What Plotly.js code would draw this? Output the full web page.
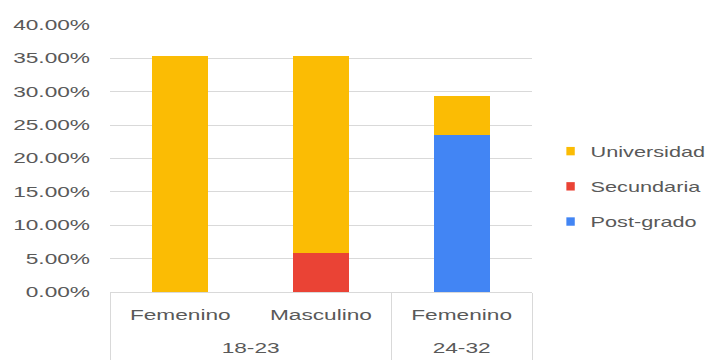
<!DOCTYPE html>
<html>
<head>
<meta charset="utf-8">
<script src="https://cdn.plot.ly/plotly-3.0.1.min.js"></script>
<style>
  html, body { margin: 0; padding: 0; background: #ffffff; }
  #chart { width: 716px; height: 360px; }
</style>
</head>
<body>
<div id="chart"></div>
<script>
// Age groups (outer level) and sex (inner level) for each bar
const ageGroups = ['18-23', '18-23', '24-32'];
const sexes = ['Femenino', 'Masculino', 'Femenino'];

// Share of respondents by highest education level
const postGrado = [0, 0, 0.2353];
const secundaria = [0, 0.0588, 0];
const universidad = [0.3529, 0.2941, 0.0588];

// Stacked bottom to top; listed top to bottom in the legend
const seriesNames = ['Post-grado', 'Secundaria', 'Universidad'];
const seriesColors = ['#4285F4', '#EA4335', '#FBBC04'];
const seriesValues = [postGrado, secundaria, universidad];
const legendRanks = [3, 2, 1];

const FONT_FAMILY = 'Liberation Sans, Arial, sans-serif';
const textFont = { family: FONT_FAMILY, size: 14, color: '#595959' };

const traces = seriesNames.map((name, i) => ({
  type: 'bar',
  name: name,
  legendgroup: name,
  legendrank: legendRanks[i],
  x: [ageGroups, sexes],
  y: seriesValues[i],
  marker: { color: seriesColors[i], line: { width: 0 } },
  hoverinfo: 'skip'
}));

const layout = {
  width: 716,
  height: 360,
  barmode: 'stack',
  bargap: 0.6,
  margin: { l: 110, r: 184, t: 25, b: 68 },
  paper_bgcolor: '#ffffff',
  plot_bgcolor: '#ffffff',
  font: textFont,
  showlegend: true,
  legend: {
    traceorder: 'grouped',
    tracegroupgap: 14,
    x: 1.044,
    xanchor: 'left',
    y: 0.395,
    yanchor: 'middle',
    font: textFont,
    itemwidth: 30
  },
  xaxis: {
    type: 'multicategory',
    showline: true,
    linecolor: '#d9d9d9',
    linewidth: 1,
    showdividers: true,
    dividercolor: '#d9d9d9',
    dividerwidth: 1,
    ticks: '',
    ticklabelstandoff: 10,
    tickfont: textFont,
    showgrid: false
  },
  yaxis: {
    range: [0, 0.4],
    dtick: 0.05,
    tickformat: '.2%',
    showgrid: true,
    gridcolor: '#d9d9d9',
    gridwidth: 1,
    zeroline: false,
    showline: false,
    ticks: '',
    ticklabelstandoff: 19,
    tickfont: textFont
  }
};

// Widen the label glyphs horizontally, keeping each label's anchor point fixed
function widenText(selector, sx, anchor) {
  document.querySelectorAll(selector).forEach(t => {
    const r = t.getBoundingClientRect();
    const pm = t.parentNode.getScreenCTM();
    const px = anchor === 'end' ? r.right : anchor === 'start' ? r.left : (r.left + r.right) / 2;
    const cx = px - pm.e;
    const old = t.getAttribute('transform') || '';
    t.setAttribute('transform', `translate(${cx},0) scale(${sx},1) translate(${-cx},0) ${old}`);
  });
}

// Move the outer category labels lower and stretch the dividers to the bottom edge
function lowerGroupLabels(dy, bottom) {
  document.querySelectorAll('.xtick2 text').forEach(t => {
    const old = t.getAttribute('transform') || '';
    t.setAttribute('transform', `translate(0,${dy}) ${old}`);
  });
  document.querySelectorAll('path.xdivider').forEach(p => {
    const bb = p.getBBox();
    const top = p.getBoundingClientRect().top;
    p.setAttribute('d', `M0,${bb.y}v${bottom - top}`);
  });
}

// Smaller legend swatches, and no clipping of the widened legend text
function tidyLegend(s) {
  document.querySelectorAll('.legendpoints path').forEach(p => {
    const old = p.getAttribute('transform') || '';
    p.setAttribute('transform', `${old} scale(${s})`);
  });
  document.querySelectorAll('.legend [clip-path]').forEach(el => el.removeAttribute('clip-path'));
}

Plotly.newPlot('chart', traces, layout, { staticPlot: true, displayModeBar: false }).then(() => {
  lowerGroupLabels(25, 360);
  widenText('.ytick text', 1.62, 'end');
  widenText('.xtick text', 1.62, 'middle');
  widenText('.xtick2 text', 1.62, 'middle');
  widenText('.legendtext', 1.55, 'start');
  tidyLegend(0.7);
});
</script>
</body>
</html>
